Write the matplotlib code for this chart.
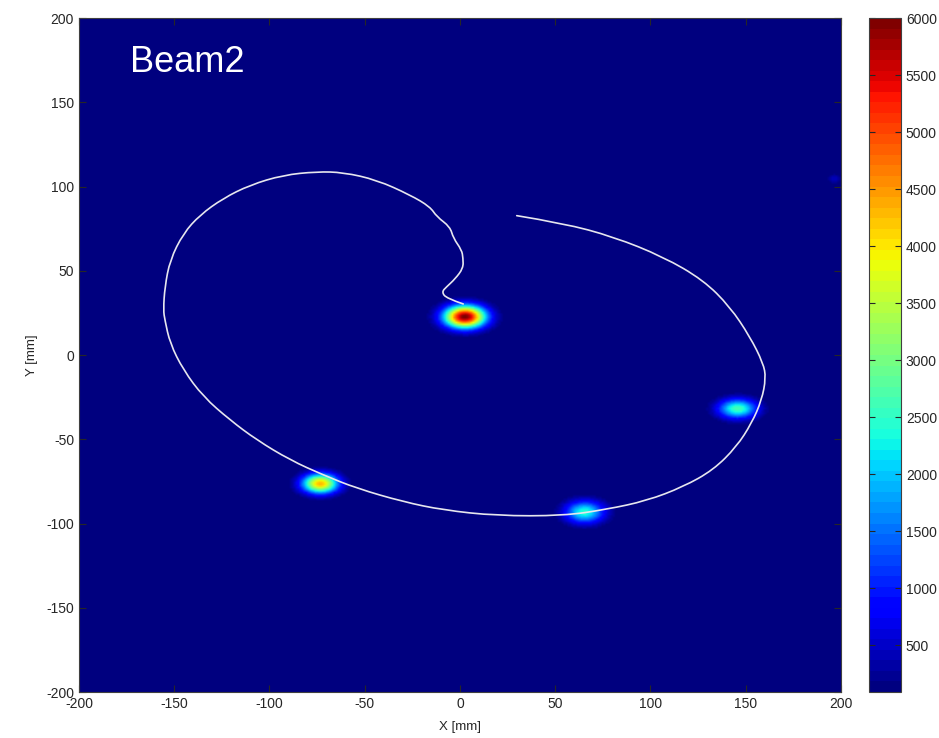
import numpy as np
import matplotlib
matplotlib.use("Agg")
import matplotlib.pyplot as plt
from matplotlib.path import Path
from matplotlib.patches import PathPatch

plt.rcParams['font.family'] = ['Liberation Sans', 'DejaVu Sans']
plt.rcParams['axes.unicode_minus'] = False

# Beam spots: centre x, centre y (mm), peak value, sigma x, sigma y (mm)
spot_x = [2.6, -73.5, 65.6, 146.1, 197.0]
spot_y = [22.4, -76.7, -93.6, -32.2, 104.4]
spot_peak = [6000, 4300, 2450, 2650, 450]
spot_sx = [7.5, 6.5, 7.0, 7.0, 2.5]
spot_sy = [4.6, 4.0, 4.5, 4.0, 2.0]

# Trajectory curve (mm)
curve_x = [1.7, -7.0, -9.6, -7.0, -2.6, 1.7, 1.6, 0.9, -3.5, -5.2, -12.2, -15.7,
           -26.2, -43.7, -61.3, -75.2, -92.8, -110.2, -124.3, -136.5, -145.2,
           -152.2, -154.9, -155.7, -154.9, -152.2, -145.2, -134.8, -120.7,
           -106.7, -89.2, -71.8, -54.2, -29.8, -8.8, 19.3, 54.2, 77.0, 98.0,
           117.2, 133.0, 145.2, 153.1, 158.4, 160.6, 159.2, 152.2, 141.7,
           127.7, 106.7, 80.5, 54.2, 29.8]
curve_y = [30.3, 33.6, 37.4, 40.5, 45.1, 51.5, 57.6, 62.3, 69.4, 76.1, 82.1, 88.0,
           95.0, 103.9, 108.4, 108.8, 106.8, 100.9, 93.0, 83.1, 72.2, 56.4,
           40.5, 26.7, 20.8, 6.9, -8.9, -24.7, -38.6, -50.4, -62.3, -71.2,
           -79.1, -87.1, -92.0, -95.4, -95.4, -91.6, -86.5, -78.2, -68.2,
           -54.4, -40.5, -26.7, -13.6, -4.9, 10.9, 28.7, 44.5, 58.3, 70.2,
           78.2, 82.7]

x_ticks = [-200, -150, -100, -50, 0, 50, 100, 150, 200]
y_ticks = [-200, -150, -100, -50, 0, 50, 100, 150, 200]
cbar_ticks = [500, 1000, 1500, 2000, 2500, 3000, 3500, 4000, 4500, 5000, 5500, 6000]
vmin, vmax = 88, 6000

# Build intensity image from the spot parameters
grid = np.arange(-200, 200.5, 1.0)
gx, gy = np.meshgrid(grid, grid)
img = np.zeros_like(gx)
for cx, cy, pk, sx, sy in zip(spot_x, spot_y, spot_peak, spot_sx, spot_sy):
    img += pk * np.exp(-((gx - cx) ** 2 / (2 * sx ** 2) + (gy - cy) ** 2 / (2 * sy ** 2)))

fig = plt.figure(figsize=(9.39, 7.38), dpi=100)
ax = fig.add_axes([0.0841, 0.0623, 0.8115, 0.9133])
cmap = plt.get_cmap('jet', 64)
im = ax.imshow(img, origin='lower', extent=[-200, 200, -200, 200], cmap=cmap,
               vmin=vmin, vmax=vmax, aspect='auto', interpolation='bilinear')

# Smooth curve: quadratic Bezier path using the traced points as control points
pts = np.column_stack([curve_x, curve_y])
verts = [pts[0]]
codes = [Path.MOVETO]
for i in range(1, len(pts) - 1):
    end = (pts[i] + pts[i + 1]) / 2 if i < len(pts) - 2 else pts[i + 1]
    verts += [pts[i], end]
    codes += [Path.CURVE3, Path.CURVE3]
ax.add_patch(PathPatch(Path(verts, codes), facecolor='none', edgecolor='#e6e6ee',
                       lw=1.2, capstyle='round', joinstyle='round'))

ax.set_xlim(-200, 200)
ax.set_ylim(-200, 200)
ax.set_xticks(x_ticks)
ax.set_yticks(y_ticks)
ax.tick_params(direction='in', length=5, width=0.8, labelsize=10,
               colors='#262626', top=True, right=True)
for s in ax.spines.values():
    s.set_color('#404040')
    s.set_linewidth(0.8)
ax.set_xlabel('X [mm]', fontsize=9.5, color='#262626', labelpad=7)
ax.set_ylabel('Y [mm]', fontsize=9.5, color='#262626', labelpad=6)
ax.text(-173, 168, 'Beam2', color='white', fontsize=26, ha='left', va='baseline')

cax = fig.add_axes([0.9254, 0.0623, 0.0341, 0.9133])
cb = fig.colorbar(im, cax=cax, ticks=cbar_ticks)
cb.outline.set_edgecolor('#404040')
cb.outline.set_linewidth(0.8)
cax.tick_params(direction='in', length=4, width=0.8, labelsize=10,
                colors='#262626', left=True, right=True)
cax.set_yticklabels([str(t) for t in cbar_ticks])

fig.savefig('out.png', dpi=100)
